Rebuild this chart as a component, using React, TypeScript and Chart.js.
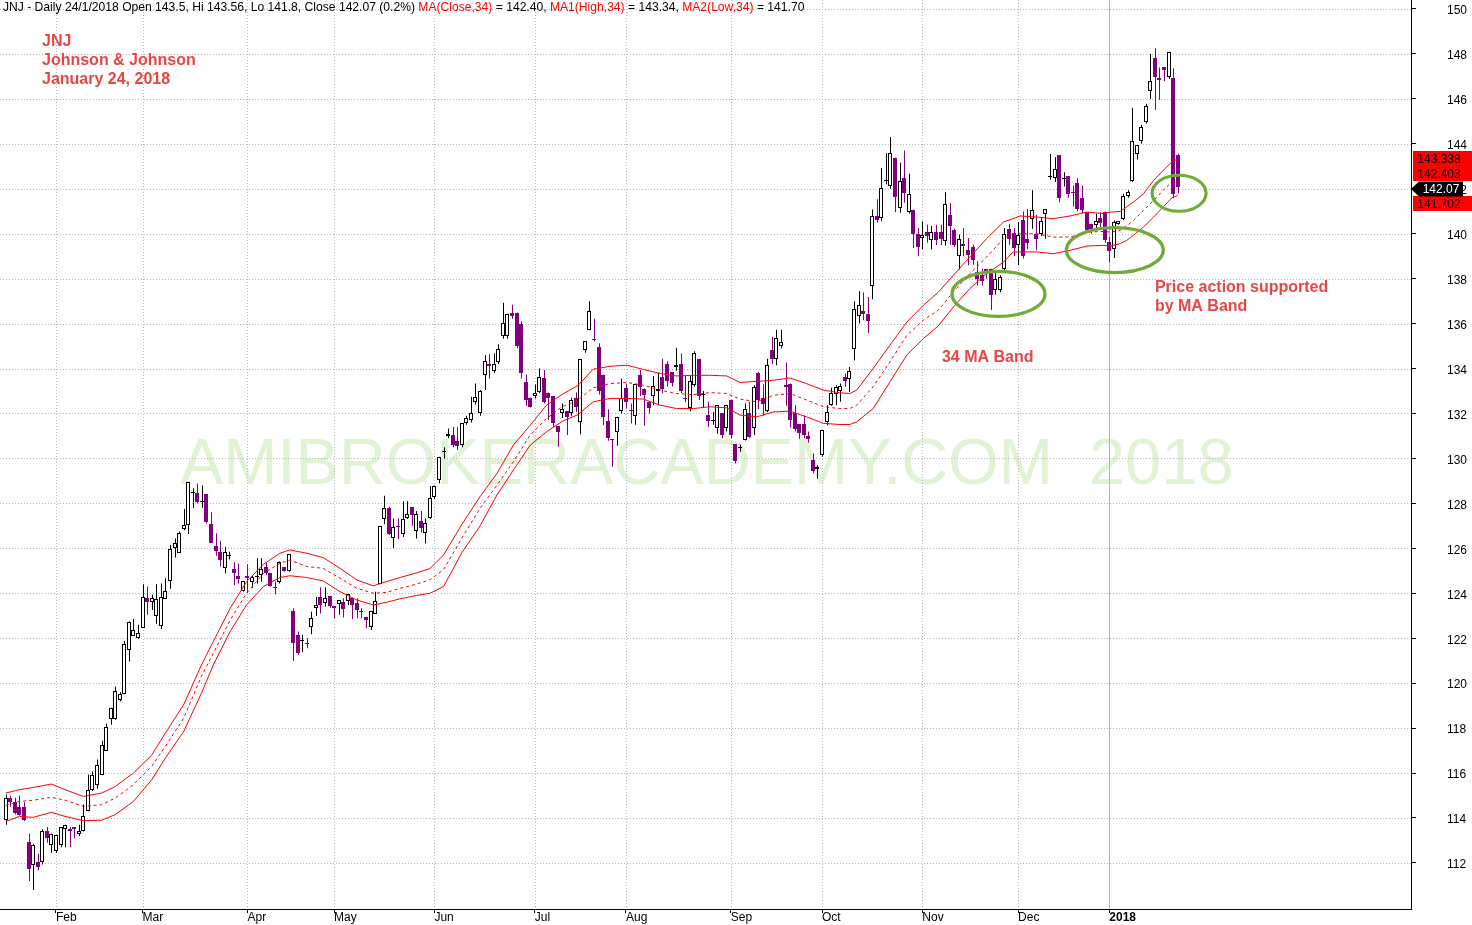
import React, { useEffect, useRef } from "react";
import { Chart, registerables } from "chart.js";

Chart.register(...registerables);

const FONT = '"Liberation Sans", Arial, Helvetica, sans-serif';

// ---- Daily OHLC, JNJ, 17 Jan 2017 .. 24 Jan 2018 (one entry per trading day) ----
const openPrices = [
  113.93,114.89,114.7,114.5,114.5,112.93,111.93,112.03,112.03,113.41,
  112.8,112.53,112.8,113.5,113.5,113.6,113.3,113.41,114.33,115.26,
  115.45,115.9,117.0,118.4,118.41,119.26,119.53,121.48,122.12,122.0,
  122.47,123.78,123.63,123.0,122.56,123.75,124.56,126.0,125.8,126.86,
  127.04,128.5,128.44,128.08,128.4,127.07,126.12,125.85,125.14,125.7,
  125.08,124.77,124.1,124.77,124.52,124.75,124.81,125.15,124.89,124.3,
  124.52,125.15,124.99,123.21,122.15,121.88,121.8,122.52,123.36,123.82,
  123.55,123.88,123.44,123.51,123.6,123.66,123.81,123.56,123.22,122.95,
  122.52,123.08,124.41,127.3,127.78,126.47,127.0,126.62,127.33,127.82,
  126.77,127.23,126.7,127.36,128.3,129.04,130.3,131.0,131.04,130.77,
  130.59,131.56,131.7,132.52,132.0,133.7,134.2,133.9,134.3,135.45,
  135.45,136.49,136.49,135.96,133.41,132.71,132.79,132.96,133.59,132.93,
  132.78,131.44,132.0,132.1,132.0,132.71,131.63,134.81,135.7,135.33,
  134.96,133.73,131.66,130.85,131.16,132.1,133.14,132.15,131.9,133.73,
  133.11,132.52,132.78,133.0,133.63,134.22,133.85,134.07,134.18,132.7,
  132.25,133.26,134.44,132.86,131.93,131.7,131.36,132.0,131.36,132.62,
  130.62,130.45,130.84,132.0,131.36,133.82,132.67,132.1,134.81,134.41,
  135.0,133.25,133.33,132.04,131.51,131.51,131.0,129.93,129.55,130.15,
  131.63,132.37,132.86,133.0,133.63,133.55,134.86,136.34,136.56,136.44,
  137.67,140.78,140.7,142.37,142.12,143.38,141.14,142.49,140.96,141.07,
  140.0,139.81,140.07,139.7,140.07,140.07,139.66,140.84,140.15,139.0,
  139.56,139.26,139.41,138.3,138.15,138.41,138.44,137.48,137.48,138.41,
  140.22,140.03,139.51,140.62,139.78,140.67,140.0,140.0,140.89,142.56,
  142.47,143.5,142.47,142.56,141.87,142.27,141.59,140.96,140.44,140.4,
  140.69,140.96,139.63,139.3,140.44,140.67,141.67,142.33,143.56,144.12,
  144.96,146.37,147.81,146.92,147.4,146.96,146.92,143.5,
];
const highPrices = [
  115.04,115.0,114.9,115.0,114.7,113.3,112.85,112.4,113.5,113.6,
  113.3,113.25,113.6,113.7,113.6,113.6,113.7,114.6,115.93,116.07,
  116.6,117.44,118.2,118.9,119.85,119.6,121.88,122.74,122.85,122.6,
  124.4,124.3,123.93,124.4,124.44,124.67,126.15,126.44,126.75,127.75,
  128.96,128.67,128.89,128.8,128.4,127.6,126.67,126.33,126.07,125.85,
  125.38,125.33,124.56,125.29,124.8,125.56,125.56,125.38,124.89,124.52,
  125.41,125.15,125.73,123.33,122.3,122.15,122.0,123.18,123.85,124.27,
  124.27,123.88,123.44,123.7,123.78,123.96,123.81,123.78,123.33,122.95,
  123.19,124.07,127.0,128.34,127.85,127.33,127.33,128.1,128.1,127.82,
  127.66,127.66,127.33,128.77,128.79,130.07,130.5,131.33,131.4,131.4,
  131.56,131.9,132.74,133.33,133.04,134.6,134.64,134.67,135.08,136.93,
  136.44,136.84,136.49,136.1,133.73,132.71,133.29,134.0,133.93,132.93,
  132.78,131.44,132.44,132.1,132.7,132.93,134.44,135.21,137.0,136.22,
  135.11,133.73,132.19,130.85,131.85,133.56,133.33,132.44,133.3,133.94,
  133.11,132.52,133.67,133.82,134.44,134.33,133.85,134.92,134.67,133.67,
  133.67,134.77,134.44,133.0,132.52,132.07,132.37,132.0,132.37,132.62,
  130.62,130.62,132.44,132.52,133.26,133.85,133.3,134.44,135.4,135.73,
  135.73,134.27,133.33,132.37,131.51,131.9,131.2,130.22,129.7,131.26,
  132.37,133.14,133.26,133.33,133.78,134.07,137.0,137.45,137.38,137.18,
  141.08,141.53,142.92,143.59,144.3,143.38,143.16,143.7,142.67,141.07,
  140.25,140.55,140.4,140.34,140.4,140.4,141.85,141.36,140.22,139.96,
  140.25,139.81,139.51,138.77,138.44,138.41,138.44,138.3,138.15,140.25,
  140.44,140.25,140.52,140.99,141.1,141.93,140.84,140.74,141.08,143.55,
  143.4,143.5,142.74,142.56,142.15,142.47,142.15,140.96,140.44,140.89,
  140.96,140.99,139.85,140.59,140.55,141.78,141.93,145.6,143.93,144.84,
  145.78,148.0,148.25,147.4,147.4,148.1,147.36,143.56,
];
const lowPrices = [
  113.7,114.5,114.15,114.1,113.85,111.2,110.8,111.66,111.93,112.9,
  112.45,112.45,112.7,112.7,112.7,113.1,113.2,113.4,114.3,115.2,
  115.3,115.9,117.0,118.15,118.37,119.2,119.5,120.96,122.1,121.97,
  122.47,123.04,123.26,122.64,122.41,123.75,124.2,125.59,125.8,126.8,
  126.64,127.78,128.0,127.8,127.1,126.25,125.67,125.19,124.89,125.5,
  124.37,124.44,124.07,124.0,124.25,124.44,124.52,124.81,124.3,123.96,
  124.44,124.96,124.96,120.99,121.26,121.38,121.55,122.18,123.0,123.1,
  123.4,123.36,122.89,123.04,122.92,123.48,122.86,122.89,122.89,122.44,
  122.37,123.08,124.41,127.07,126.59,126.0,126.4,126.5,127.3,127.0,
  126.44,126.7,126.22,127.3,128.2,128.9,130.0,130.9,130.5,130.37,
  130.5,131.5,131.6,132.4,131.9,133.04,133.56,133.8,134.2,135.33,
  135.33,136.22,134.9,133.56,132.33,132.27,132.67,132.9,132.44,131.7,
  131.4,130.52,131.8,131.04,131.9,132.07,131.08,134.7,135.7,135.2,
  132.84,131.48,130.79,129.63,130.56,132.0,132.22,131.56,131.5,132.78,
  131.45,132.0,132.37,132.37,132.9,133.2,133.2,133.9,132.9,132.5,
  132.1,133.2,132.6,132.27,131.4,131.5,131.1,130.9,131.2,130.9,
  129.78,130.3,130.8,130.9,131.04,132.2,131.9,132.07,134.19,134.15,
  134.9,132.34,131.38,131.2,130.88,130.9,130.7,129.33,129.1,130.07,
  131.48,132.34,132.37,132.52,133.19,132.96,134.37,136.0,136.15,135.58,
  137.08,140.5,140.55,142.2,142.0,140.96,140.93,141.38,140.9,139.36,
  139.0,139.3,139.6,139.3,139.5,139.5,139.48,139.51,139.4,138.41,
  139.0,138.6,138.62,137.7,137.7,138.0,136.6,137.3,137.4,138.3,
  139.5,139.0,138.6,138.9,139.3,140.22,139.26,139.9,139.78,142.4,
  142.3,141.4,142.1,141.6,141.2,141.0,140.9,140.07,140.0,140.2,
  140.3,139.6,138.74,138.92,140.4,140.6,141.6,142.3,143.3,144.0,
  144.9,146.0,145.5,145.96,146.8,146.9,141.58,141.8,
];
const closePrices = [
  114.89,114.7,114.2,114.15,113.9,111.75,112.8,111.82,113.41,113.1,
  113.3,113.23,113.6,113.67,113.4,113.5,113.41,114.07,115.26,115.9,
  116.37,117.23,118.07,118.89,119.67,119.53,121.73,122.74,122.37,122.22,
  123.85,123.63,123.8,123.73,123.85,124.12,125.96,126.22,126.7,127.04,
  128.96,128.52,128.07,128.1,127.19,126.25,125.88,125.48,125.82,125.72,
  124.89,124.64,124.56,124.67,124.71,124.78,125.08,124.89,124.34,124.22,
  125.41,124.99,125.73,121.78,121.33,121.9,121.78,122.89,123.48,123.48,
  123.78,123.44,123.36,123.7,123.3,123.96,123.48,123.26,123.2,122.81,
  123.19,123.66,127.0,127.78,126.64,126.96,126.95,127.29,127.51,127.48,
  127.53,126.89,127.11,128.25,128.79,130.07,130.35,131.1,130.59,130.56,
  131.56,131.81,132.03,132.74,133.0,134.34,134.1,134.22,134.89,136.04,
  136.44,136.34,135.0,133.78,132.59,132.3,132.89,133.63,132.52,132.67,
  131.56,131.19,132.19,131.85,132.59,132.3,134.44,135.21,136.56,135.26,
  132.99,131.85,130.93,130.8,131.85,132.7,132.52,132.1,133.3,133.16,
  132.81,132.25,133.21,133.11,133.08,133.44,133.36,134.15,133.0,132.66,
  133.45,134.71,132.78,132.88,131.67,131.73,132.37,131.04,132.37,131.04,
  129.88,130.5,132.18,130.96,133.19,132.59,132.44,134.15,134.41,135.36,
  135.19,133.2,131.7,131.33,131.11,131.04,130.85,129.44,129.6,131.26,
  132.07,132.89,133.19,133.23,133.45,133.88,136.64,136.81,136.41,136.1,
  140.78,140.63,142.03,142.4,143.6,141.63,142.34,141.8,141.78,139.97,
  139.41,139.96,139.9,140.07,139.7,139.75,141.33,140.34,139.51,139.75,
  139.45,139.04,138.81,138.0,137.88,138.3,137.26,138.0,138.07,140.0,
  139.78,139.36,139.93,139.0,139.6,141.04,139.75,140.55,141.08,142.58,
  142.86,141.58,142.49,141.78,141.85,141.08,141.04,140.15,140.22,140.55,
  140.49,139.7,139.23,140.52,140.55,141.67,141.85,144.12,143.93,144.74,
  145.7,146.81,146.96,146.86,147.3,148.1,141.78,142.07,
];

// ---- Month ticks (index of first trading day of each month) ----
const monthLabels = ["Feb", "Mar", "Apr", "May", "Jun", "Jul", "Aug", "Sep", "Oct", "Nov", "Dec", "2018"];
const monthStartIdx = [11, 30, 53, 72, 94, 116, 136, 159, 179, 201, 222, 242];
const yearStartIdx = 242;

// ---- Price axis ticks ----
const yTickValues = [112,114,116,118,120,122,124,126,128,130,132,134,136,138,140,142,144,146,148,150];

// ---- 34-day moving average band at these bar positions ----
const maIdx = [
  0,3,6,10,13,17,21,24,28,32,
  35,39,43,45.5,49.2,52.8,56.5,60.1,62.3,66,
  69.6,73.3,77,80.6,83.5,86.4,90,93,96,100,
  104,107.7,111.3,115,118.6,122,125.5,128.8,132.5,136.2,
  139.8,143.5,147.1,150.8,154.4,158.1,161,164.7,168.3,172,
  175.6,179.3,182.9,185.1,186.6,190.2,193.9,197.6,201.2,204.5,
  207.8,211.4,215.1,218.8,220.9,222.4,226.1,229.7,233.4,237,
  240.7,242.2,244.4,245.8,247.3,249.5,251.7,253.8,255.7,257,
];
const maHighValues = [
  115.11,115.26,115.36,115.51,115.26,114.96,115.11,115.4,116.0,116.8,
  117.78,119.04,120.85,121.85,123.33,124.52,125.29,125.78,125.93,125.78,
  125.59,125.11,124.59,124.33,124.52,124.7,124.9,125.1,125.7,127.06,
  128.3,129.33,130.59,131.48,132.37,132.85,133.25,133.97,134.1,134.15,
  133.96,133.78,133.67,133.7,133.7,133.67,133.38,133.43,133.48,133.58,
  133.33,133.04,132.92,132.89,133.04,134.0,135.04,136.07,136.81,137.4,
  138.15,138.96,139.78,140.52,140.67,140.79,140.74,140.67,140.79,140.96,
  140.9,140.96,140.99,141.19,141.41,141.78,142.37,142.81,143.19,143.338,
];
const maCloseValues = [
  114.56,114.74,114.79,114.92,114.79,114.52,114.59,114.89,115.48,116.3,
  117.19,118.44,120.35,121.33,122.81,124.0,124.89,125.33,125.48,125.19,
  125.11,124.67,124.22,124.0,124.04,124.22,124.4,124.6,125.05,126.45,
  127.78,128.81,129.85,131.04,131.78,132.3,132.6,133.14,133.33,133.38,
  133.26,133.04,132.89,132.84,132.93,132.89,132.64,132.52,132.81,132.89,
  132.6,132.3,132.22,132.22,132.37,133.19,134.3,135.48,136.15,136.6,
  137.41,138.22,138.96,139.78,140.0,140.0,140.0,139.85,139.85,140.07,
  140.1,140.07,140.15,140.35,140.59,141.04,141.48,141.93,142.3,142.403,
];
const maLowValues = [
  113.85,114.07,114.03,114.25,114.07,113.88,113.9,114.15,114.74,115.7,
  116.67,117.85,119.6,120.81,122.3,123.48,124.3,124.7,124.78,124.7,
  124.55,124.07,123.7,123.48,123.6,123.75,123.9,124.0,124.3,125.8,
  127.0,128.37,129.48,130.59,131.19,131.65,131.95,132.52,132.67,132.67,
  132.64,132.37,132.22,132.22,132.3,132.25,131.93,131.85,132.07,132.1,
  131.85,131.56,131.51,131.51,131.63,132.22,133.41,134.6,135.33,135.9,
  136.74,137.56,138.22,138.74,139.19,139.19,139.19,139.11,139.26,139.45,
  139.48,139.45,139.56,139.7,139.93,140.3,140.74,141.19,141.59,141.702,
];

// ---- Annotations (anchored in data coordinates) ----
const ellipseNotes = [
  { i: 217.7, p: 137.32, rx: 46.5, ry: 22.5 },
  { i: 243.2, p: 139.27, rx: 48.5, ry: 22.5 },
  { i: 257.3, p: 141.8, rx: 27, ry: 18 },
];
const textNotes = [
  { text: "34 MA Band", i: 205.3, p: 134.47 },
  { text: "Price action supported", i: 252.0, p: 137.58 },
  { text: "by MA Band", i: 252.0, p: 136.74 },
];
const titleLines = ["JNJ", "Johnson & Johnson", "January 24, 2018"];

// ---- layout constants ----
const W = 1472;
const H = 925;
const PX_PER_BAR = 4.56;
const FIRST_BAR_X = 5.8;
const PLOT_RIGHT = 1411;
const PLOT_BOTTOM = 909;
const X_MIN = -FIRST_BAR_X / PX_PER_BAR;
const X_MAX = X_MIN + PLOT_RIGHT / PX_PER_BAR;
const Y_MIN = 109.95;
const Y_MAX = 150.4;

const PURPLE = "#800080";
const NOTE_RED = "#e84646";

const overlayPlugin = {
  id: "amiOverlay",
  beforeDraw(chart: any) {
    const ctx = chart.ctx;
    ctx.save();
    ctx.fillStyle = "#ffffff";
    ctx.fillRect(0, 0, chart.width, chart.height);
    ctx.restore();
  },
  beforeDatasetsDraw(chart: any) {
    const { ctx, chartArea: a } = chart;
    const xs = chart.scales.x;
    const ys = chart.scales.y;
    // snap candle elements to the pixel grid for crisp bodies and wicks
    chart.data.datasets.forEach((ds: any, di: number) => {
      if (ds.type !== "bar") return;
      const meta = chart.getDatasetMeta(di);
      const isWick = ds.label === "Wick";
      meta.data.forEach((el: any) => {
        el.x = Math.round(el.x) + (isWick ? 0.5 : 0);
        if (!isWick) {
          el.y = Math.round(el.y);
          el.base = Math.round(el.base);
          if (el.y === el.base) el.base = el.y + 1;
        }
      });
    });
    ctx.save();
    // watermark
    ctx.fillStyle = "rgb(224,243,213)";
    ctx.font = `65px ${FONT}`;
    ctx.textBaseline = "alphabetic";
    ctx.textAlign = "left";
    ctx.fillText("AMIBROKERACADEMY.COM  2018", 180, 484);
    // grid
    ctx.lineWidth = 1;
    ctx.strokeStyle = "#b8b8b8";
    ctx.setLineDash([1, 2]);
    for (const v of yTickValues) {
      const py = Math.round(ys.getPixelForValue(v)) + 0.5;
      ctx.beginPath();
      ctx.moveTo(a.left, py);
      ctx.lineTo(a.right, py);
      ctx.stroke();
    }
    for (const idx of monthStartIdx) {
      if (idx === yearStartIdx) continue;
      const px = Math.round(xs.getPixelForValue(idx)) + 0.5;
      ctx.beginPath();
      ctx.moveTo(px, a.top);
      ctx.lineTo(px, a.bottom);
      ctx.stroke();
    }
    ctx.setLineDash([]);
    ctx.strokeStyle = "#b0b0b0";
    const yx = Math.round(xs.getPixelForValue(yearStartIdx)) + 0.5;
    ctx.beginPath();
    ctx.moveTo(yx, a.top);
    ctx.lineTo(yx, a.bottom);
    ctx.stroke();
    ctx.restore();
  },
  afterDatasetsDraw(chart: any) {
    const { ctx } = chart;
    const xs = chart.scales.x;
    const ys = chart.scales.y;
    ctx.save();
    // ellipses
    ctx.strokeStyle = "rgb(112,170,58)";
    ctx.lineWidth = 3.2;
    for (const e of ellipseNotes) {
      ctx.beginPath();
      ctx.ellipse(xs.getPixelForValue(e.i), ys.getPixelForValue(e.p), e.rx, e.ry, 0, 0, Math.PI * 2);
      ctx.stroke();
    }
    // notes
    ctx.fillStyle = NOTE_RED;
    ctx.font = `bold 16px ${FONT}`;
    ctx.textBaseline = "middle";
    ctx.textAlign = "left";
    for (const t of textNotes) {
      ctx.fillText(t.text, xs.getPixelForValue(t.i), ys.getPixelForValue(t.p));
    }
    titleLines.forEach((t, k) => {
      ctx.fillText(t, chart.chartArea.left + 42, chart.chartArea.top + 42 + k * 19);
    });
    ctx.restore();
  },
  afterDraw(chart: any) {
    const { ctx } = chart;
    const ys = chart.scales.y;
    const n = closePrices.length - 1;
    ctx.save();
    // header line
    const pct = ((closePrices[n] - closePrices[n - 1]) / closePrices[n - 1]) * 100;
    const segs: [string, string][] = [
      [`JNJ - Daily 24/1/2018 Open ${openPrices[n]}, Hi ${highPrices[n]}, Lo ${lowPrices[n]}, Close ${closePrices[n]} (${pct.toFixed(1)}%) `, "#000000"],
      ["MA(Close,34)", "#ff0000"],
      [` = ${maCloseValues[maCloseValues.length - 1].toFixed(2)}, `, "#000000"],
      ["MA1(High,34)", "#ff0000"],
      [` = ${maHighValues[maHighValues.length - 1].toFixed(2)}, `, "#000000"],
      ["MA2(Low,34)", "#ff0000"],
      [` = ${maLowValues[maLowValues.length - 1].toFixed(2)}`, "#000000"],
    ];
    ctx.font = `12px ${FONT}`;
    const full = segs.map((s) => s[0]).join("");
    const w12 = ctx.measureText(full).width;
    const size = Math.max(9, Math.min(13, (12 * 802) / w12));
    ctx.font = `${size}px ${FONT}`;
    ctx.textBaseline = "middle";
    ctx.textAlign = "left";
    let hx = 3;
    for (const [s, c] of segs) {
      ctx.fillStyle = c;
      ctx.fillText(s, hx, 8);
      hx += ctx.measureText(s).width;
    }

    // last-value boxes on the price axis
    const closeV = closePrices[n];
    const items = [
      { v: maHighValues[maHighValues.length - 1], t: maHighValues[maHighValues.length - 1].toFixed(3) },
      { v: maCloseValues[maCloseValues.length - 1], t: maCloseValues[maCloseValues.length - 1].toFixed(3) },
      { v: maLowValues[maLowValues.length - 1], t: maLowValues[maLowValues.length - 1].toFixed(3) },
    ];
    const BH = 15;
    const yc = ys.getPixelForValue(closeV) + 1.5;
    const above = items.filter((it) => it.v > closeV).sort((a, b) => a.v - b.v);
    const below = items.filter((it) => it.v <= closeV).sort((a, b) => b.v - a.v);
    const placed: { y: number; t: string }[] = [];
    let prev = yc;
    for (const it of above) {
      const y = Math.min(ys.getPixelForValue(it.v), prev - BH);
      placed.push({ y, t: it.t });
      prev = y;
    }
    prev = yc;
    for (const it of below) {
      const y = Math.max(ys.getPixelForValue(it.v), prev + BH);
      placed.push({ y, t: it.t });
      prev = y;
    }
    ctx.font = `12px ${FONT}`;
    ctx.textAlign = "center";
    ctx.textBaseline = "middle";
    for (const p of placed) {
      ctx.fillStyle = "#ff0000";
      ctx.fillRect(1413, Math.round(p.y - BH / 2), W - 1413, BH);
      ctx.fillStyle = "#000000";
      ctx.fillText(p.t, 1439, Math.round(p.y) + 0.5);
    }
    // close arrow box
    const cy = Math.round(yc);
    ctx.fillStyle = "#000000";
    ctx.beginPath();
    ctx.moveTo(1411, cy);
    ctx.lineTo(1419, cy - BH / 2);
    ctx.lineTo(1463, cy - BH / 2);
    ctx.lineTo(1463, cy + BH / 2);
    ctx.lineTo(1419, cy + BH / 2);
    ctx.closePath();
    ctx.fill();
    ctx.fillStyle = "#ffffff";
    ctx.fillText(String(closeV), 1441, cy + 0.5);
    ctx.restore();
  },
};

export default function App() {
  const ref = useRef<HTMLCanvasElement>(null);
  useEffect(() => {
    const canvas = ref.current;
    if (!canvas) return;
    const up = closePrices.map((c, i) => c >= openPrices[i]);
    const lineDs = (label: string, vals: number[], dash: number[]) => ({
      type: "line" as const,
      label,
      data: maIdx.map((x, k) => ({ x, y: vals[k] })),
      borderColor: "#ff0000",
      borderWidth: 1,
      borderDash: dash,
      pointRadius: 0,
      tension: 0,
      fill: false,
      order: -1,
    });
    const chart = new Chart(canvas, {
      type: "bar",
      data: {
        datasets: [
          lineDs("MA1(High,34)", maHighValues, []),
          lineDs("MA(Close,34)", maCloseValues, [3, 3]),
          lineDs("MA2(Low,34)", maLowValues, []),
          {
            type: "bar",
            label: "Body",
            data: openPrices.map((o, i) => ({ x: i, y: [o, closePrices[i]] })),
            backgroundColor: up.map((u) => (u ? "#ffffff" : PURPLE)),
            borderColor: up.map((u) => (u ? "#000000" : PURPLE)),
            borderWidth: 1,
            borderSkipped: false,
            barThickness: 4,
            inflateAmount: 0,
            grouped: false,
            order: 0,
          },
          {
            type: "bar",
            label: "Wick",
            data: lowPrices.map((l, i) => ({ x: i, y: [l, highPrices[i]] })),
            backgroundColor: up.map((u) => (u ? "#000000" : PURPLE)),
            borderWidth: 0,
            barThickness: 1,
            inflateAmount: 0,
            grouped: false,
            order: 1,
          },
        ] as any,
      },
      options: {
        responsive: false,
        animation: false,
        events: [],
        layout: { padding: 0 },
        plugins: { legend: { display: false }, tooltip: { enabled: false } },
        scales: {
          x: {
            type: "linear",
            min: X_MIN,
            max: X_MAX,
            offset: false,
            afterBuildTicks: (s: any) => {
              s.ticks = monthStartIdx.map((v) => ({ value: v }));
            },
            afterFit: (s: any) => {
              s.height = H - PLOT_BOTTOM;
              s.paddingLeft = 0;
              s.paddingRight = 0;
              s.paddingTop = 0;
              s.paddingBottom = 0;
            },
            grid: { offset: false, drawOnChartArea: false, drawTicks: true, tickLength: 4, tickColor: "#000000", tickWidth: 1 },
            border: { display: true, color: "#000000", width: 1 },
            ticks: {
              autoSkip: false,
              maxRotation: 0,
              minRotation: 0,
              align: "start",
              padding: -3,
              color: "#000000",
              font: (c: any) => ({
                family: FONT,
                size: 12,
                weight: c && c.tick && c.tick.value === yearStartIdx ? "bold" : "normal",
              }),
              callback: (_v: any, idx: number) => monthLabels[idx],
            },
          },
          y: {
            type: "linear",
            position: "right",
            min: Y_MIN,
            max: Y_MAX,
            afterBuildTicks: (s: any) => {
              s.ticks = yTickValues.map((v) => ({ value: v }));
            },
            afterFit: (s: any) => {
              s.width = W - PLOT_RIGHT;
              s.paddingTop = 0;
              s.paddingBottom = 0;
              s.paddingLeft = 0;
              s.paddingRight = 0;
            },
            grid: { offset: false, drawOnChartArea: false, drawTicks: true, tickLength: 5, tickColor: "#000000" },
            border: { display: true, color: "#000000", width: 1 },
            ticks: {
              padding: 31,
              labelOffset: 2,
              color: "#000000",
              font: { family: FONT, size: 12 },
              callback: (v: any) => String(v),
            },
          },
        },
      } as any,
      plugins: [overlayPlugin],
    });
    return () => chart.destroy();
  }, []);
  return (
    <div style={{ position: "absolute", left: 0, top: 0, width: W, height: H, background: "#ffffff" }}>
      <canvas ref={ref} width={W} height={H} style={{ display: "block", width: W, height: H }} />
    </div>
  );
}
